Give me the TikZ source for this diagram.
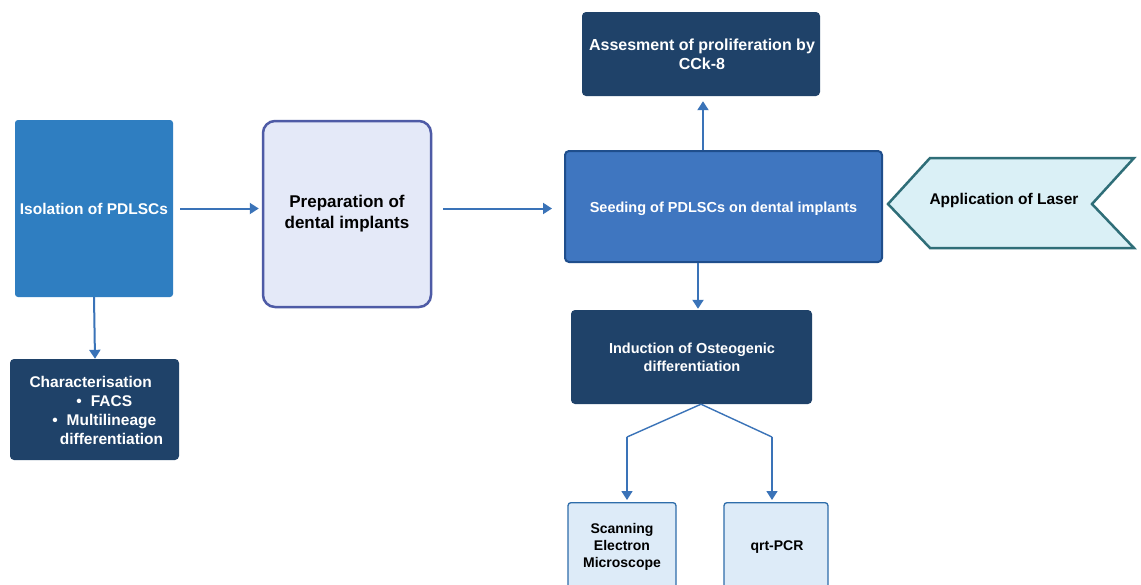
\documentclass[tikz,border=0pt]{standalone}
\usepackage{fontspec}
\setmainfont{Liberation Sans}
\usetikzlibrary{arrows.meta}
\definecolor{isoblue}{HTML}{2F7EC1}
\definecolor{prepfill}{HTML}{E4E9F8}
\definecolor{prepdraw}{HTML}{4E5BA6}
\definecolor{navy}{HTML}{1F4269}
\definecolor{seedfill}{HTML}{3F76C0}
\definecolor{seeddraw}{HTML}{1F4E8C}
\definecolor{laserfill}{HTML}{DAF0F6}
\definecolor{laserdraw}{HTML}{2F6E78}
\definecolor{semfill}{HTML}{DDEBF8}
\definecolor{semdraw}{HTML}{2E6DAA}
\definecolor{arrowc}{HTML}{3A73B8}
\tikzset{
  box/.style={rectangle, inner sep=0pt, align=center, font=\bfseries},
  isobox/.style={box, fill=isoblue, rounded corners=3pt, text=white},
  prepbox/.style={box, fill=prepfill, draw=prepdraw, line width=2.5pt, rounded corners=12pt},
  navybox/.style={box, fill=navy, rounded corners=4pt, text=white},
  seedbox/.style={box, fill=seedfill, draw=seeddraw, line width=2pt, rounded corners=4pt, text=white},
  lightbox/.style={box, fill=semfill, draw=semdraw, line width=1.3pt, rounded corners=3pt},
  txt/.style={inner sep=0pt, align=center, font=\bfseries},
  conn/.style={draw=arrowc, line width=2pt, -{Triangle[length=9pt,width=11pt]}},
  connline/.style={draw=arrowc, line width=1.4pt},
  f15/.style={font=\fontsize{15.5}{19}\selectfont\bfseries},
  f16/.style={font=\fontsize{16}{19}\selectfont\bfseries},
  f145/.style={font=\fontsize{14.5}{18}\selectfont\bfseries},
  f14/.style={font=\fontsize{14}{17.3}\selectfont\bfseries},
  f17/.style={font=\fontsize{17}{21}\selectfont\bfseries},
}
\begin{document}
\begin{tikzpicture}[x=1pt,y=-1pt]
\clip (0,0) rectangle (1141,584);
\fill[white] (0,0) rectangle (1141,584);

% Isolation
\node[isobox, minimum width=158pt, minimum height=177pt, f15] (iso) at (94,208.5) {Isolation of PDLSCs};
% Preparation
\node[prepbox, minimum width=168pt, minimum height=186pt] (prep) at (347,214) {};
\node[txt, f17] (preptext) at (347,213.5) {Preparation of\\dental implants};
% Characterisation
\node[navybox, minimum width=169pt, minimum height=101pt] (char) at (94.5,409.5) {};
\node[txt, f15, text=white] (chartext) at (111.5,412.5) {%
  \begin{tabular}{@{}c@{}}
  \makebox[0pt][l]{\hspace*{-82pt}Characterisation}\\
  \llap{\textbullet\hspace{9pt}}FACS\\
  \llap{\textbullet\hspace{9pt}}Multilineage\\
  differentiation
  \end{tabular}};
% Seeding
\node[seedbox, minimum width=317pt, minimum height=111pt, f145] (seed) at (723.5,206.5) {};
\node[txt, f145, text=white] (seedtext) at (723.5,208.5) {Seeding of PDLSCs on dental implants};
% Assessment
\node[navybox, minimum width=238pt, minimum height=84pt] (assess) at (701,54) {};
\node[txt, f16, text=white] (assesstext) at (702,54) {Assesment of proliferation by\\CCk-8};
% Laser chevron
\coordinate (ltip) at (888,204);
\coordinate (ltl) at (930,158);
\coordinate (ltr) at (1134,158);
\coordinate (lnotch) at (1092,204);
\coordinate (lbr) at (1134,248);
\coordinate (lbl) at (930,248);
\draw[fill=laserfill, draw=laserdraw, line width=2.5pt, line join=miter] (ltip) -- (ltl) -- (ltr) -- (lnotch) -- (lbr) -- (lbl) -- cycle;
\node[txt, f15] (laser) at (1004,200) {Application of Laser};
% Induction
\node[navybox, minimum width=241pt, minimum height=94pt] (ind) at (691.5,357) {};
\node[txt, f145, text=white] (indtext) at (692,357.5) {Induction of Osteogenic\\differentiation};
% SEM and qrt-PCR
\node[lightbox, minimum width=108pt, minimum height=110pt, anchor=north] (sem) at (622,502) {};
\node[txt, f14] (semtext) at (622,547) {Scanning\\Electron\\Microscope};
\node[lightbox, minimum width=104pt, minimum height=110pt, anchor=north] (pcr) at (776,502) {};
\node[txt, f14] (pcrtext) at (777,547.5) {qrt-PCR};

% Connectors
\draw[conn, shorten <=7pt, shorten >=3pt] (iso.east) -- (prep.west |- iso.east);
\draw[conn, shorten <=11pt, shorten >=12pt] (prep.east |- iso.east) -- (seed.west |- iso.east);
\draw[conn] (iso.south) -- ([xshift=1pt]iso.south |- char.north);
\draw[conn, shorten >=5pt] ([xshift=-20.5pt]seed.north) -- ([xshift=-20.5pt]seed.north |- assess.south);
\draw[conn, shorten >=1pt] ([xshift=-25.5pt]seed.south) -- ([xshift=-25.5pt]seed.south |- ind.north);
\coordinate (bl) at (627,437);
\coordinate (br) at (772,437);
\draw[connline] ([xshift=9.5pt]ind.south) -- (bl);
\draw[conn, line width=1.6pt, shorten >=2pt] (bl) -- (bl |- sem.north);
\draw[connline] ([xshift=9.5pt]ind.south) -- (br);
\draw[conn, line width=1.6pt, shorten >=2pt] (br) -- (br |- pcr.north);
\end{tikzpicture}
\end{document}
